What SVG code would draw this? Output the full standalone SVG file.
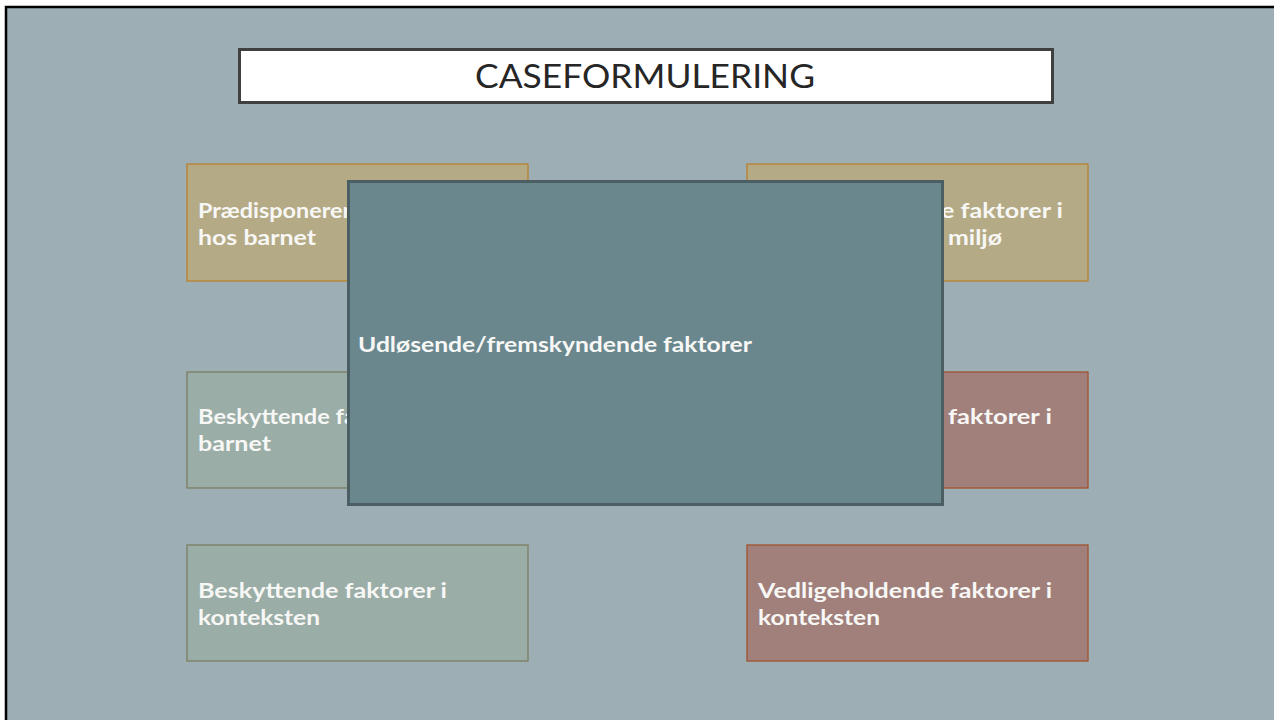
<svg xmlns="http://www.w3.org/2000/svg" width="1274" height="720" viewBox="0 0 1274 720">
  <style>
    .lbl { font-family: Lato, "Liberation Sans", sans-serif; font-weight: 700; font-size: 20.5px; fill: #F7F7F5; }
    .tan { fill: #B5AA86; stroke: #B8812B; stroke-width: 1.3; }
    .sage { fill: #9AADA6; stroke: #7B7F62; stroke-width: 1.3; }
    .rose { fill: #A1807B; stroke: #A0522D; stroke-width: 1.3; }
  </style>

  <!-- slide background and frame -->
  <rect x="0" y="0" width="1274" height="720" fill="#FFFFFF"/>
  <rect x="6" y="7" width="1268" height="713" fill="#9DAFB4"/>
  <path d="M6,720 V7 H1274" fill="none" stroke="#000000" stroke-width="2.5"/>

  <!-- title -->
  <g id="title">
    <rect x="239.5" y="49.5" width="813" height="53" fill="#FFFFFF" stroke="#404040" stroke-width="3"/>
    <text x="475" y="88" textLength="340" lengthAdjust="spacingAndGlyphs" font-family="Lato, 'Liberation Sans', sans-serif" font-size="33" font-weight="400" fill="#262626">CASEFORMULERING</text>
  </g>

  <!-- factor boxes -->
  <g id="node-top-left">
    <rect class="tan" x="187" y="164" width="341" height="117"/>
    <text class="lbl" x="198" y="218" textLength="171" lengthAdjust="spacingAndGlyphs">Prædisponerend</text>
    <text class="lbl" x="198" y="245" textLength="118" lengthAdjust="spacingAndGlyphs">hos barnet</text>
  </g>

  <g id="node-top-right">
    <rect class="tan" x="747" y="164" width="341" height="117"/>
    <text class="lbl" x="1063" y="218" text-anchor="end" textLength="122" lengthAdjust="spacingAndGlyphs">e faktorer i</text>
    <text class="lbl" x="948" y="245" textLength="54" lengthAdjust="spacingAndGlyphs">miljø</text>
  </g>

  <g id="node-mid-left">
    <rect class="sage" x="187" y="372" width="341" height="116"/>
    <text class="lbl" x="198" y="424" textLength="158" lengthAdjust="spacingAndGlyphs">Beskyttende fa</text>
    <text class="lbl" x="198" y="451" textLength="73" lengthAdjust="spacingAndGlyphs">barnet</text>
  </g>

  <g id="node-mid-right">
    <rect class="rose" x="747" y="372" width="341" height="116"/>
    <text class="lbl" x="948" y="424" textLength="104" lengthAdjust="spacingAndGlyphs">faktorer i</text>
  </g>

  <g id="node-bottom-left">
    <rect class="sage" x="187" y="545" width="341" height="116"/>
    <text class="lbl" x="198" y="598" textLength="249" lengthAdjust="spacingAndGlyphs">Beskyttende faktorer i</text>
    <text class="lbl" x="198" y="625" textLength="122" lengthAdjust="spacingAndGlyphs">konteksten</text>
  </g>

  <g id="node-bottom-right">
    <rect class="rose" x="747" y="545" width="341" height="116"/>
    <text class="lbl" x="758" y="598" textLength="294" lengthAdjust="spacingAndGlyphs">Vedligeholdende faktorer i</text>
    <text class="lbl" x="758" y="625" textLength="122" lengthAdjust="spacingAndGlyphs">konteksten</text>
  </g>

  <!-- central overlay box -->
  <g id="node-center">
    <rect x="348.5" y="181.5" width="594" height="323" fill="#6A878E" stroke="#4A5E64" stroke-width="3"/>
    <text class="lbl" x="358" y="352" textLength="394" lengthAdjust="spacingAndGlyphs">Udløsende/fremskyndende faktorer</text>
  </g>

  <g id="connectors"/>
</svg>
